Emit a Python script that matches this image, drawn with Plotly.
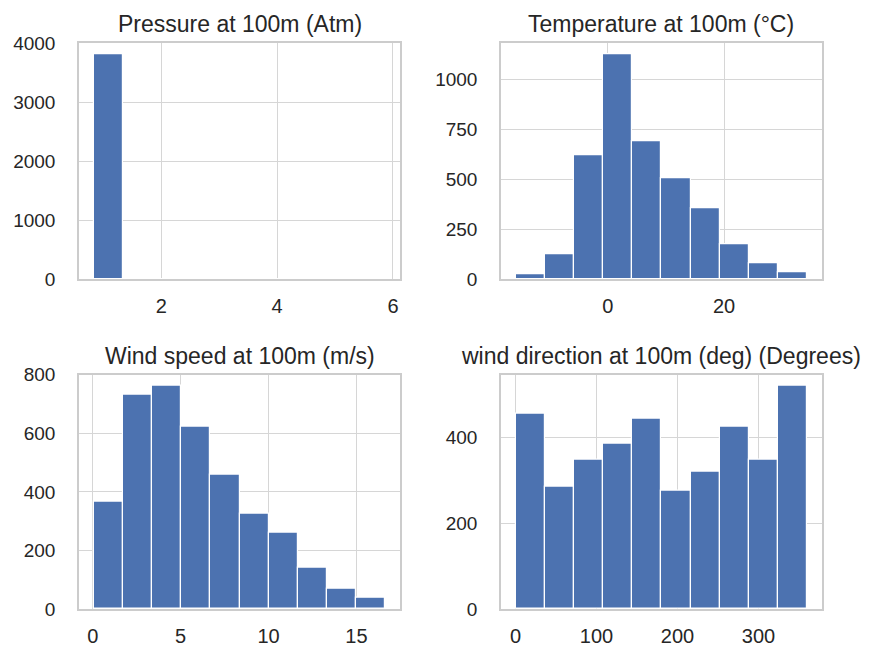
import numpy as np
import plotly.graph_objects as go

# ---------------- data ----------------
titles = [
    "Pressure at 100m (Atm)",
    "Temperature at 100m (°C)",
    "Wind speed at 100m (m/s)",
    "wind direction at 100m (deg) (Degrees)",
]

pressure_bin_range = [0.83, 5.87]
pressure_counts = [3811, 0, 0, 0, 0, 0, 0, 0, 0, 1]

temperature_bin_range = [-15.9, 34.3]
temperature_counts = [27, 123, 619, 1125, 690, 506, 357, 173, 82, 33]

windspeed_bin_range = [0.05, 16.65]
windspeed_counts = [368, 733, 762, 624, 458, 326, 259, 141, 70, 37]

winddir_bin_range = [0.0, 360.0]
winddir_counts = [454, 286, 347, 386, 444, 275, 319, 424, 347, 520]

x_ticks = [[2, 4, 6], [0, 20], [0, 5, 10, 15], [0, 100, 200, 300]]
y_ticks = [[0, 1000, 2000, 3000, 4000], [0, 250, 500, 750, 1000],
           [0, 200, 400, 600, 800], [0, 200, 400]]

series = [
    (pressure_bin_range, pressure_counts),
    (temperature_bin_range, temperature_counts),
    (windspeed_bin_range, windspeed_counts),
    (winddir_bin_range, winddir_counts),
]

# ---------------- layout geometry ----------------
W, H = 870, 646
col_px = [(79, 400), (501, 821.7)]
row_px = [(43.3, 279.3), (374.7, 609)]

BAR = "#4C72B0"
TXT = "#262626"
GRID = "#d6d6d6"
FRAME = "#cccccc"
FONT = "Liberation Sans, Arial, sans-serif"

fig = go.Figure()
layout = dict(
    width=W, height=H, margin=dict(l=0, r=0, t=0, b=0, autoexpand=False),
    paper_bgcolor="white", plot_bgcolor="white", showlegend=False,
    font=dict(family=FONT, color=TXT, size=19),
    bargap=0,
)
annotations = []

for i, ((lo, hi), counts) in enumerate(series):
    r, c = divmod(i, 2)
    n = len(counts)
    edges = np.linspace(lo, hi, n + 1)
    centers = (edges[:-1] + edges[1:]) / 2
    width = edges[1] - edges[0]
    ax = "" if i == 0 else str(i + 1)
    fig.add_trace(go.Bar(
        x=centers, y=counts, width=width,
        marker=dict(color=BAR, line=dict(color="white", width=1.2)),
        xaxis="x" + ax, yaxis="y" + ax, hoverinfo="x+y",
    ))
    span = hi - lo
    xr = [lo - 0.05 * span, hi + 0.05 * span]
    yr = [0, max(counts) * 1.05]
    x0, x1 = col_px[c]
    y0, y1 = row_px[r]
    xd = [x0 / W, x1 / W]
    yd = [1 - y1 / H, 1 - y0 / H]
    layout["xaxis" + ax] = dict(
        domain=xd, range=xr, anchor="y" + ax, automargin=False,
        tickvals=x_ticks[i], showgrid=True, gridcolor=GRID, gridwidth=1,
        showline=True, mirror=True, linecolor=FRAME, linewidth=1.5,
        zeroline=False, ticks="", ticklabelstandoff=8,
        tickfont=dict(size=20, color=TXT),
    )
    layout["yaxis" + ax] = dict(
        domain=yd, range=yr, anchor="x" + ax, automargin=False,
        tickvals=y_ticks[i], showgrid=True, gridcolor=GRID, gridwidth=1,
        showline=True, mirror=True, linecolor=FRAME, linewidth=1.5,
        zeroline=False, ticks="", ticklabelstandoff=18,
        tickfont=dict(size=19, color=TXT),
    )
    annotations.append(dict(
        text=titles[i], x=(xd[0] + xd[1]) / 2, y=yd[1],
        xref="paper", yref="paper", xanchor="center", yanchor="bottom",
        yshift=4, showarrow=False, font=dict(size=23, color=TXT, family=FONT),
    ))

layout["annotations"] = annotations
fig.update_layout(**layout)
fig.write_html("out.html")
